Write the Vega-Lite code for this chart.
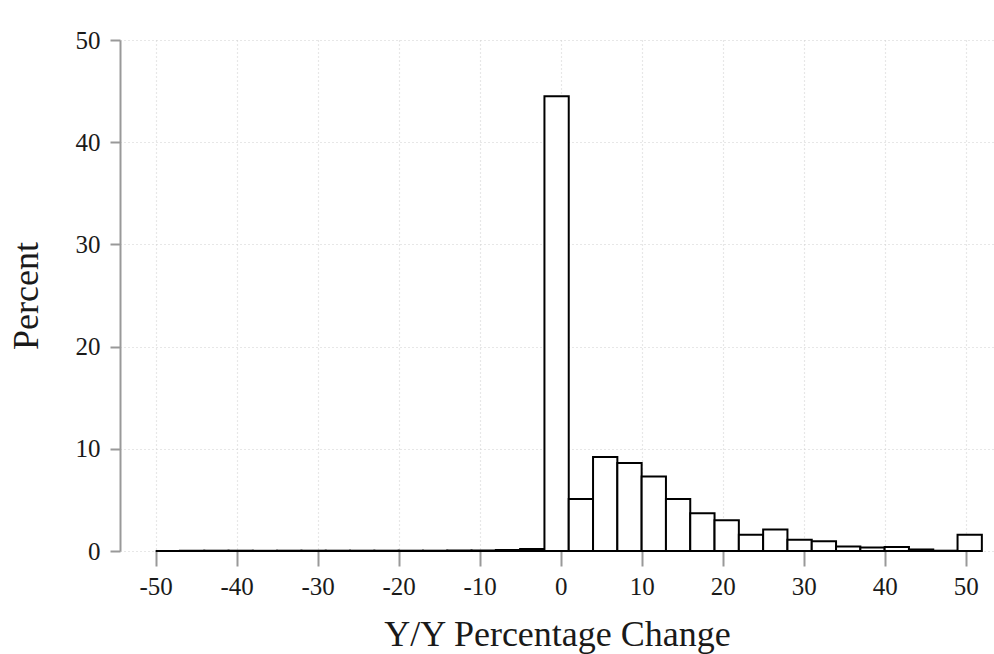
{
  "$schema": "https://vega.github.io/schema/vega-lite/v6.json",
  "width": 874,
  "height": 511,
  "autosize": {"type": "none"},
  "padding": {"left": 120, "top": 40, "right": 0, "bottom": 103},
  "background": "white",
  "config": {
    "view": {"stroke": null},
    "font": "Liberation Serif"
  },
  "data": {
    "values": [
      {"bin_start": -50, "bin_end": -47, "percent": 0},
      {"bin_start": -47, "bin_end": -44, "percent": 0.02},
      {"bin_start": -44, "bin_end": -41, "percent": 0.03},
      {"bin_start": -41, "bin_end": -38, "percent": 0.03},
      {"bin_start": -38, "bin_end": -35, "percent": 0.02},
      {"bin_start": -35, "bin_end": -32, "percent": 0.03},
      {"bin_start": -32, "bin_end": -29, "percent": 0.03},
      {"bin_start": -29, "bin_end": -26, "percent": 0.03},
      {"bin_start": -26, "bin_end": -23, "percent": 0.03},
      {"bin_start": -23, "bin_end": -20, "percent": 0.03},
      {"bin_start": -20, "bin_end": -17, "percent": 0.03},
      {"bin_start": -17, "bin_end": -14, "percent": 0.03},
      {"bin_start": -14, "bin_end": -11, "percent": 0.04},
      {"bin_start": -11, "bin_end": -8, "percent": 0.05},
      {"bin_start": -8, "bin_end": -5, "percent": 0.1},
      {"bin_start": -5, "bin_end": -2, "percent": 0.2},
      {"bin_start": -2, "bin_end": 1, "percent": 44.5},
      {"bin_start": 1, "bin_end": 4, "percent": 5.1},
      {"bin_start": 4, "bin_end": 7, "percent": 9.2},
      {"bin_start": 7, "bin_end": 10, "percent": 8.6},
      {"bin_start": 10, "bin_end": 13, "percent": 7.3},
      {"bin_start": 13, "bin_end": 16, "percent": 5.1},
      {"bin_start": 16, "bin_end": 19, "percent": 3.7},
      {"bin_start": 19, "bin_end": 22, "percent": 3.0},
      {"bin_start": 22, "bin_end": 25, "percent": 1.6},
      {"bin_start": 25, "bin_end": 28, "percent": 2.1},
      {"bin_start": 28, "bin_end": 31, "percent": 1.1},
      {"bin_start": 31, "bin_end": 34, "percent": 0.95},
      {"bin_start": 34, "bin_end": 37, "percent": 0.45},
      {"bin_start": 37, "bin_end": 40, "percent": 0.35},
      {"bin_start": 40, "bin_end": 43, "percent": 0.4},
      {"bin_start": 43, "bin_end": 46, "percent": 0.15},
      {"bin_start": 46, "bin_end": 49, "percent": 0.03},
      {"bin_start": 49, "bin_end": 52, "percent": 1.6}
    ]
  },
  "mark": {"type": "rect", "fill": "white", "stroke": "black", "strokeWidth": 2},
  "encoding": {
    "x": {
      "field": "bin_start",
      "type": "quantitative",
      "scale": {"domain": [-54.4, 53.5], "nice": false, "zero": false},
      "axis": {
        "values": [-50, -40, -30, -20, -10, 0, 10, 20, 30, 40, 50],
        "labelExpr": "replace(datum.label, '\u2212', '-')",
        "title": "Y/Y Percentage Change",
        "titleFont": "Liberation Serif",
        "titleFontSize": 36,
        "titleFontWeight": "normal",
        "titleColor": "#1a1a1a",
        "titlePadding": 18,
        "labelFont": "Liberation Serif",
        "labelFontSize": 25,
        "labelColor": "#1a1a1a",
        "labelPadding": 8,
        "labelFlush": false,
        "domain": false,
        "ticks": true,
        "tickSize": 15,
        "tickColor": "#999999",
        "tickWidth": 2,
        "grid": true,
        "gridColor": "#d0d0d0",
        "gridDash": [1, 3],
        "gridWidth": 1.2
      }
    },
    "x2": {"field": "bin_end"},
    "y": {
      "field": "percent",
      "type": "quantitative",
      "scale": {"domain": [0, 50], "nice": false},
      "axis": {
        "values": [0, 10, 20, 30, 40, 50],
        "title": "Percent",
        "titleFont": "Liberation Serif",
        "titleFontSize": 36,
        "titleFontWeight": "normal",
        "titleColor": "#1a1a1a",
        "titlePadding": 30,
        "labelFont": "Liberation Serif",
        "labelFontSize": 25,
        "labelColor": "#1a1a1a",
        "labelPadding": 10,
        "labelFlush": false,
        "domain": true,
        "domainColor": "#999999",
        "domainWidth": 2,
        "ticks": true,
        "tickSize": 10,
        "tickColor": "#999999",
        "tickWidth": 2,
        "grid": true,
        "gridColor": "#d0d0d0",
        "gridDash": [1, 3],
        "gridWidth": 1.2
      }
    },
    "y2": {"datum": 0}
  }
}
